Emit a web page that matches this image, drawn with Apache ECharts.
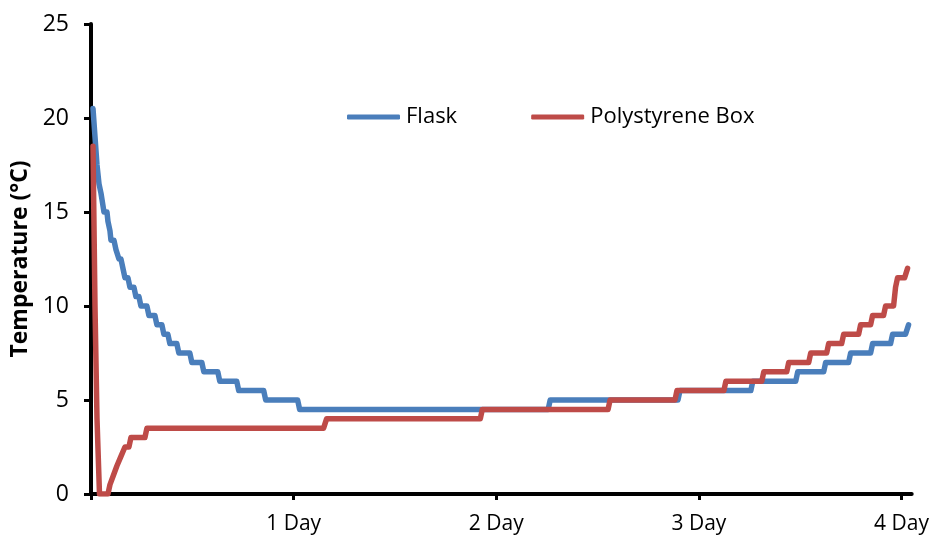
<!DOCTYPE html>
<html>
<head>
<meta charset="utf-8">
<script src="https://cdn.jsdelivr.net/npm/echarts@6/dist/echarts.min.js"></script>
<style>
html,body{margin:0;padding:0;background:#fff;}
#chart{width:932px;height:544px;}
</style>
</head>
<body>
<div id="chart"></div>
<script>
// Time in days, temperature in °C
var seriesNames = ['Flask', 'Polystyrene Box'];
var yTicks = [0, 5, 10, 15, 20, 25];
var xTickDays = [0, 1, 2, 3, 4];
var xLabelDays = [1, 2, 3, 4];

var flaskDays = [0.0099,0.0197,0.0296,0.0394,0.0493,0.0567,0.0640,0.0788,0.0837,0.0936,0.0985,0.1133,0.1232,0.1379,0.1478,0.1576,0.1675,0.1823,0.1921,0.2118,0.2217,0.2365,0.2463,0.2759,0.2857,0.3153,0.3251,0.3498,0.3596,0.3793,0.3892,0.4236,0.4335,0.4877,0.4975,0.5468,0.5567,0.6256,0.6355,0.7192,0.7291,0.8522,0.8621,1.0197,1.0296,2.2562,2.2660,2.8966,2.9064,3.2562,3.2660,3.4778,3.4877,3.6158,3.6256,3.7389,3.7488,3.8473,3.8571,3.9458,3.9557,4.0197,4.0345];
var flaskTemp = [20.5,19,17.5,16.5,16,15.5,15,15,14.5,14,13.5,13.5,13,12.5,12.5,12,11.5,11.5,11,11,10.5,10.5,10,10,9.5,9.5,9,9,8.5,8.5,8,8,7.5,7.5,7,7,6.5,6.5,6,6,5.5,5.5,5,5,4.5,4.5,5,5,5.5,5.5,6,6,6.5,6.5,7,7,7.5,7.5,8,8,8.5,8.5,9];

var boxDays = [0.0099,0.0197,0.0296,0.0419,0.0837,0.0936,0.1034,0.1108,0.1182,0.1281,0.1379,0.1478,0.1576,0.1675,0.1872,0.1970,0.2660,0.2759,1.1478,1.1626,1.9212,1.9310,2.5517,2.5616,2.8818,2.8916,3.1232,3.1330,3.3103,3.3202,3.4335,3.4433,3.5419,3.5517,3.6305,3.6404,3.7044,3.7143,3.7882,3.7980,3.8473,3.8571,3.9113,3.9212,3.9606,3.9704,3.9803,4.0148,4.0296];
var boxTemp = [18.5,10,4,0,0,0.5,0.5,1,1,1.5,1.5,2,2,2.5,2.5,3,3,3.5,3.5,4,4,4.5,4.5,5,5,5.5,5.5,6,6,6.5,6.5,7,7,7.5,7.5,8,8,8.5,8.5,9,9,9.5,9.5,10,10,11,11.5,11.5,12];

function pairs(xs, ys){ return xs.map(function(x,i){ return [x, ys[i]]; }); }

var FONT = '"Open Sans", "Noto Sans", sans-serif';
var BLUE = '#4A7EBB', RED = '#BE4B48';
var chart = echarts.init(document.getElementById('chart'), null, {renderer:'canvas'});
chart.setOption({
  animation: false,
  backgroundColor: '#ffffff',
  grid: {left: 91, top: 24, right: 19, bottom: 50, containLabel: false},
  legend: {
    left: 347, top: 106, padding: 0,
    icon: 'roundRect',
    itemWidth: 53, itemHeight: 5, itemGap: 74,
    textStyle: {fontFamily: FONT, fontSize: 22, color: '#000', padding: [0, 0, 0, 1]},
    data: seriesNames
  },
  xAxis: {
    type: 'value', min: 0, max: 4.05, interval: 1,
    splitLine: {show: false},
    axisLine: {show: true, onZero: false, lineStyle: {color: '#000', width: 4}},
    axisTick: {show: true, length: 6, inside: false, lineStyle: {color: '#000', width: 3}, customValues: xTickDays},
    axisLabel: {
      margin: 20, fontFamily: FONT, fontSize: 21, color: '#000',
      customValues: xLabelDays,
      formatter: function(v){ return Math.round(v) + ' Day'; }
    }
  },
  yAxis: {
    type: 'value', min: 0, max: 25, interval: 5,
    name: 'Temperature (°C)', nameLocation: 'middle', nameGap: 57, nameRotate: 90,
    nameTextStyle: {fontFamily: FONT, fontSize: 23, fontWeight: 'bold', color: '#000'},
    splitLine: {show: false},
    axisLine: {show: true, lineStyle: {color: '#000', width: 4}},
    axisTick: {show: true, length: 7, lineStyle: {color: '#000', width: 3}},
    axisLabel: {margin: 22, fontFamily: FONT, fontSize: 23, color: '#000'}
  },
  series: [
    {name: seriesNames[0], type: 'line', data: pairs(flaskDays, flaskTemp), showSymbol: false, symbol: 'none',
     itemStyle: {color: BLUE}, lineStyle: {width: 5.5, color: BLUE, cap: 'round', join: 'round'}, z: 2},
    {name: seriesNames[1], type: 'line', data: pairs(boxDays, boxTemp), showSymbol: false, symbol: 'none',
     itemStyle: {color: RED}, lineStyle: {width: 5.5, color: RED, cap: 'round', join: 'round'}, z: 3}
  ]
});
</script>
</body>
</html>
